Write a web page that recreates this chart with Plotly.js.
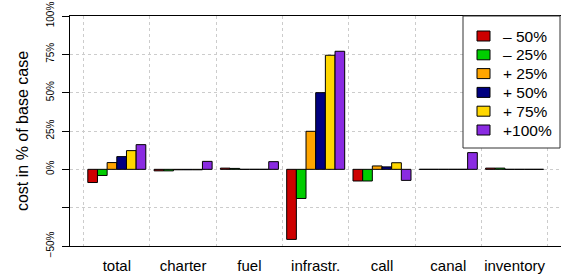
<!DOCTYPE html>
<html>
<head>
<meta charset="utf-8">
<script src="https://cdn.plot.ly/plotly-3.0.1.min.js"></script>
<style>html,body{margin:0;padding:0;background:#fff;}#chart{width:561px;height:280px;}</style>
</head>
<body>
<div id="chart"></div>
<script>
const categories = ["total", "charter", "fuel", "infrastr.", "call", "canal", "inventory"];
const seriesNames = ["– 50%", "– 25%", "+ 25%", "+ 50%", "+ 75%", "+100%"];
const seriesColors = ["#CD0000", "#00CD00", "#FFA500", "#000080", "#FFD700", "#8A2BE2"];
const minus50 = [-8.6, -1.0, 0.8, -45.7, -7.6, 0.0, 0.8];
const minus25 = [-4.0, -1.0, 0.6, -19.0, -7.6, 0.0, 0.8];
const plus25  = [4.4, -0.3, 0.0, 24.8, 2.2, 0.0, 0.0];
const plus50  = [8.3, -0.3, 0.0, 50.0, 1.6, 0.0, 0.0];
const plus75  = [12.2, -0.3, 0.0, 74.4, 4.3, 0.0, 0.0];
const plus100 = [16.1, 5.2, 5.0, 77.0, -7.2, 10.9, 0.0];
const yTickVals = [-50, -25, 0, 25, 50, 75, 100];
const yTickText = ["−50%", "", "0%", "25%", "50%", "75%", "100%"];

const seriesValues = [minus50, minus25, plus25, plus50, plus75, plus100];
const traces = seriesValues.map((vals, k) => ({
  type: "bar",
  x: categories,
  y: vals,
  name: seriesNames[k],
  marker: {color: seriesColors[k], line: {color: "#000", width: 1}},
  hoverinfo: "skip"
}));

const font = "Liberation Sans, Arial, sans-serif";

// plot area in pixels: x 70..561, y 16..246
const PL = 70, PW = 491, PT = 16, PH = 230;
const px = v => (v - PL) / PW;
const py = v => (PT + PH - v) / PH;

// hand-built legend (box, swatches, labels) from the series arrays
const shapes = [{
  type: "rect", xref: "paper", yref: "paper", layer: "above",
  x0: px(463), x1: px(560), y0: py(148), y1: py(16),
  fillcolor: "#fff", line: {color: "#333", width: 1}
}];
const annotations = [];
seriesNames.forEach((nm, k) => {
  const yc = 36 + 18.8 * k;
  shapes.push({
    type: "rect", xref: "paper", yref: "paper", layer: "above",
    x0: px(477), x1: px(490), y0: py(yc + 5), y1: py(yc - 5),
    fillcolor: seriesColors[k], line: {color: "#000", width: 1}
  });
  annotations.push({
    xref: "paper", yref: "paper", x: px(501), y: py(yc),
    xanchor: "left", yanchor: "middle", showarrow: false,
    text: nm, font: {family: font, size: 15.5, color: "#000"}
  });
});

const layout = {
  width: 561, height: 280,
  margin: {l: 70, r: 0, t: 16, b: 34, pad: 0},
  paper_bgcolor: "#fff", plot_bgcolor: "#fff",
  barmode: "group", bargap: 0.125, bargroupgap: 0,
  showlegend: false,
  shapes: shapes,
  annotations: annotations,
  xaxis: {
    type: "category",
    range: [-0.706, 6.70],
    tickson: "boundaries",
    tickangle: 0,
    ticks: "", showgrid: true, gridcolor: "#cccccc", griddash: "3px,3px", gridwidth: 1,
    showline: true, linecolor: "#000", linewidth: 1, mirror: true,
    tickfont: {family: font, size: 15, color: "#000"},
    ticklabelstandoff: 6,
    zeroline: false, fixedrange: true
  },
  yaxis: {
    range: [-50, 100],
    tickvals: yTickVals, ticktext: yTickText,
    tickangle: -90,
    ticks: "outside", ticklen: 7, tickcolor: "#000", tickwidth: 1,
    ticklabelstandoff: 4,
    showline: true, linecolor: "#000", linewidth: 1,
    showgrid: true, gridcolor: "#cccccc", griddash: "3px,3px", gridwidth: 1,
    zeroline: false,
    tickfont: {family: font, size: 10, color: "#000"},
    title: {text: "cost in % of base case", font: {family: font, size: 16, color: "#000"}, standoff: 12},
    fixedrange: true
  }
};

Plotly.newPlot("chart", traces, layout, {staticPlot: true, displayModeBar: false});
</script>
</body>
</html>
